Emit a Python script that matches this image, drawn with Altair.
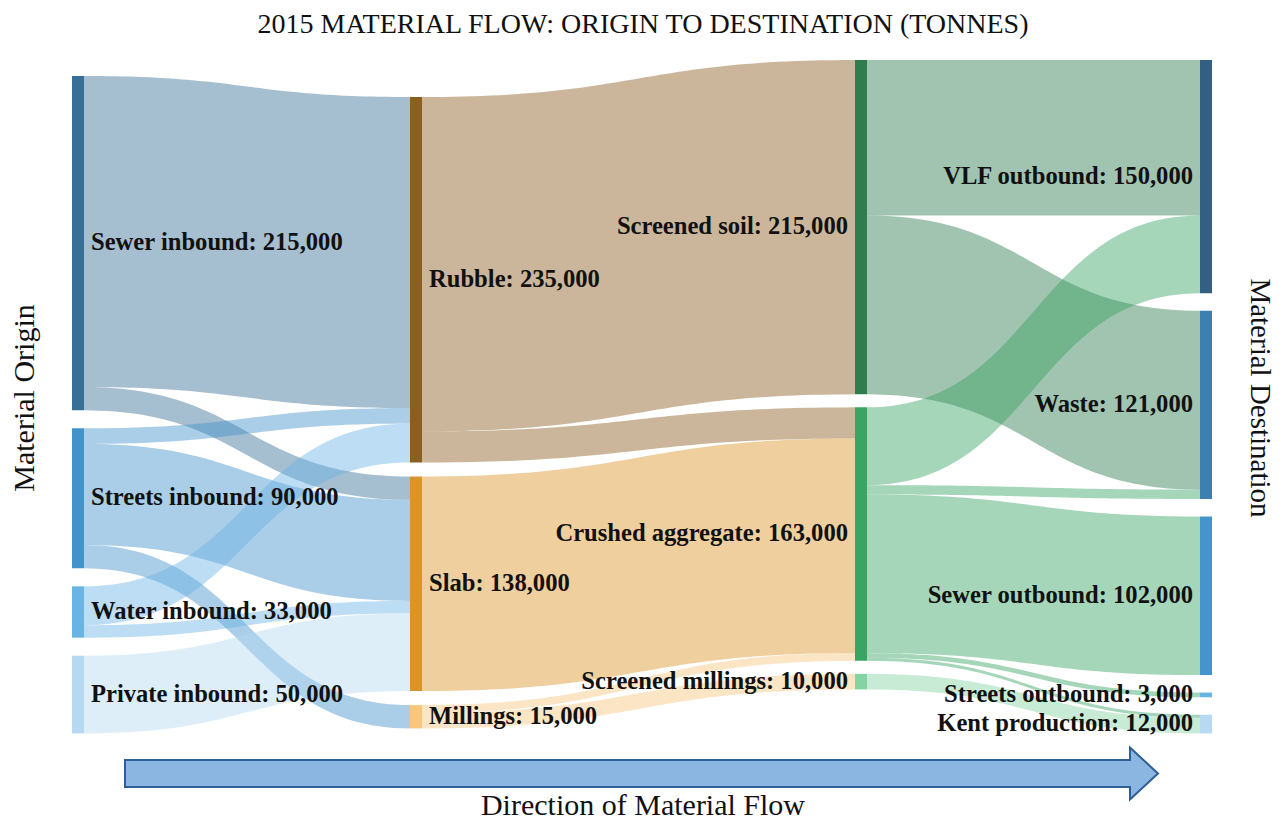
import altair as alt
import pandas as pd
import numpy as np

# ---------------- data ----------------
origin = ["Sewer inbound", "Streets inbound", "Water inbound", "Private inbound"]
processing = ["Rubble", "Slab", "Millings"]
products = ["Screened soil", "Crushed aggregate", "Screened millings"]
destination = ["VLF outbound", "Waste", "Sewer outbound", "Streets outbound", "Kent production"]

link_source = ["Sewer inbound", "Sewer inbound",
               "Streets inbound", "Streets inbound", "Streets inbound",
               "Water inbound", "Water inbound",
               "Private inbound",
               "Rubble", "Rubble",
               "Slab",
               "Millings", "Millings",
               "Screened soil", "Screened soil",
               "Crushed aggregate", "Crushed aggregate", "Crushed aggregate",
               "Crushed aggregate", "Crushed aggregate",
               "Screened millings"]
link_target = ["Rubble", "Slab",
               "Rubble", "Slab", "Millings",
               "Rubble", "Slab",
               "Slab",
               "Screened soil", "Crushed aggregate",
               "Crushed aggregate",
               "Crushed aggregate", "Screened millings",
               "VLF outbound", "Waste",
               "VLF outbound", "Waste", "Sewer outbound",
               "Streets outbound", "Kent production",
               "Kent production"]
link_tonnes = [200000, 15000,
               10000, 65000, 15000,
               25000, 8000,
               50000,
               215000, 20000,
               138000,
               5000, 10000,
               100000, 115000,
               50000, 6000, 102000,
               3000, 2000,
               10000]

title_text = "2015 MATERIAL FLOW: ORIGIN TO DESTINATION (TONNES)"
left_text = "Material Origin"
right_text = "Material Destination"
bottom_text = "Direction of Material Flow"

# ---------------- style / layout ----------------
node_colors = {
    "Sewer inbound": "#376f97",
    "Streets inbound": "#4392ca",
    "Water inbound": "#6ab4e4",
    "Private inbound": "#b6d9f1",
    "Rubble": "#8b5e22",
    "Slab": "#dc9426",
    "Millings": "#f8c67c",
    "Screened soil": "#2e7d4f",
    "Crushed aggregate": "#39a563",
    "Screened millings": "#84d3a2",
    "VLF outbound": "#325f82",
    "Waste": "#3c80b2",
    "Sewer outbound": "#4495ce",
    "Streets outbound": "#66b3e6",
    "Kent production": "#b5daf2",
}
columns = [origin, processing, products, destination]
W, H = 1270, 812
COL_LEFT = [64, 402, 847, 1192]
NODE_W = 12
COL_TOP = [68, 89, 52, 52]
COL_GAP = [18, 14, 13, 17.5]
T_PER_PX = 643.0
LABEL_PAD = 7

# ---------------- sankey layout ----------------
node_in = {n: 0 for c in columns for n in c}
node_out = {n: 0 for c in columns for n in c}
for s, t, v in zip(link_source, link_target, link_tonnes):
    node_out[s] += v
    node_in[t] += v
node_val = {n: max(node_in[n], node_out[n]) for n in node_in}

node_col, node_y0, node_y1 = {}, {}, {}
for ci, col in enumerate(columns):
    y = COL_TOP[ci] * T_PER_PX
    for n in col:
        node_col[n] = ci
        node_y0[n] = y
        node_y1[n] = y + node_val[n]
        y = node_y1[n] + COL_GAP[ci] * T_PER_PX

nodes_df = pd.DataFrame({
    "node": list(node_col.keys()),
    "x0": [COL_LEFT[node_col[n]] for n in node_col],
    "x1": [COL_LEFT[node_col[n]] + NODE_W for n in node_col],
    "y0": [node_y0[n] for n in node_col],
    "y1": [node_y1[n] for n in node_col],
    "ymid": [(node_y0[n] + node_y1[n]) / 2 for n in node_col],
    "label": [f"{n}: {node_val[n]:,}" for n in node_col],
    "col": [node_col[n] for n in node_col],
})
nodes_df["lx"] = np.where(nodes_df["col"] <= 1, nodes_df["x1"] + LABEL_PAD, nodes_df["x0"] - LABEL_PAD)

idx = list(range(len(link_tonnes)))
src_off, tgt_off = {}, {}
for n in node_col:
    outs = sorted([i for i in idx if link_source[i] == n], key=lambda i: node_y0[link_target[i]])
    y = node_y0[n]
    for i in outs:
        src_off[i] = y
        y += link_tonnes[i]
    ins = sorted([i for i in idx if link_target[i] == n], key=lambda i: node_y0[link_source[i]])
    y = node_y0[n]
    for i in ins:
        tgt_off[i] = y
        y += link_tonnes[i]

t = np.linspace(0, 1, 60)
sx = 1.5 * t * (1 - t) + t ** 3
sy = 3 * t ** 2 - 2 * t ** 3
rows = []
for i in idx:
    s, g, v = link_source[i], link_target[i], link_tonnes[i]
    xa = COL_LEFT[node_col[s]] + NODE_W
    xb = COL_LEFT[node_col[g]]
    for a, b in zip(sx, sy):
        rows.append({
            "link": f"L{i:02d}",
            "x": xa + (xb - xa) * a,
            "y0": src_off[i] + (tgt_off[i] - src_off[i]) * b,
            "y1": src_off[i] + v + (tgt_off[i] - src_off[i]) * b,
        })
links_df = pd.DataFrame(rows)
link_ids = [f"L{i:02d}" for i in idx]
link_colors = [node_colors[link_source[i]] for i in idx]

xs = alt.Scale(domain=[0, W], nice=False, zero=False)
ys = alt.Scale(domain=[0, H * T_PER_PX], reverse=True, nice=False, zero=False)

links = alt.Chart(links_df).mark_area(opacity=0.45, interpolate="linear").encode(
    x=alt.X("x:Q", scale=xs, axis=None),
    y=alt.Y("y0:Q", scale=ys, axis=None, stack=None),
    y2="y1:Q",
    color=alt.Color("link:N", scale=alt.Scale(domain=link_ids, range=link_colors), legend=None),
)

nodes = alt.Chart(nodes_df).mark_rect().encode(
    x=alt.X("x0:Q", scale=xs, axis=None),
    x2="x1:Q",
    y=alt.Y("y0:Q", scale=ys, axis=None),
    y2="y1:Q",
    fill=alt.Fill("node:N", scale=alt.Scale(domain=list(node_colors.keys()),
                                            range=list(node_colors.values())), legend=None),
)

label_font = dict(font="Liberation Serif", fontWeight="bold", fontSize=24.6, color="#111111", baseline="middle")
labels_left = alt.Chart(nodes_df[nodes_df["col"] <= 1]).mark_text(align="left", **label_font).encode(
    x=alt.X("lx:Q", scale=xs, axis=None),
    y=alt.Y("ymid:Q", scale=ys, axis=None),
    text="label:N",
)
labels_right = alt.Chart(nodes_df[nodes_df["col"] >= 2]).mark_text(align="right", **label_font).encode(
    x=alt.X("lx:Q", scale=xs, axis=None),
    y=alt.Y("ymid:Q", scale=ys, axis=None),
    text="label:N",
)

one = pd.DataFrame({"k": [0]})
txt = dict(font="Liberation Serif", color="#111111", baseline="middle", align="center")
title = alt.Chart(one).mark_text(text=title_text, fontSize=28, **txt).encode(
    x=alt.value(635), y=alt.value(17))
left_t = alt.Chart(one).mark_text(text=left_text, fontSize=30, angle=270, **txt).encode(
    x=alt.value(17), y=alt.value(390))
right_t = alt.Chart(one).mark_text(text=right_text, fontSize=29, angle=90, **txt).encode(
    x=alt.value(1252), y=alt.value(390))
bottom_t = alt.Chart(one).mark_text(text=bottom_text, fontSize=30, **txt).encode(
    x=alt.value(635), y=alt.value(798))

arrow_path = ("M-1,-0.0261L0.9458,-0.0261L0.9458,-0.0503L1,0L0.9458,0.0503"
              "L0.9458,0.0261L-1,0.0261Z")
arrow = alt.Chart(one).mark_point(shape=arrow_path, filled=True, fill="#8ab6e1", fillOpacity=1,
                                  stroke="#2e5e96", strokeWidth=2, opacity=1).encode(
    x=alt.value(633.5), y=alt.value(765.5), size=alt.value(1033 ** 2))

chart = alt.layer(links, nodes, labels_left, labels_right, title, left_t, right_t, bottom_t, arrow).properties(
    width=W, height=H, padding=0, background="white"
).configure_view(strokeWidth=0)

chart.save("out.html", embed_options={"renderer": "svg", "actions": False})
